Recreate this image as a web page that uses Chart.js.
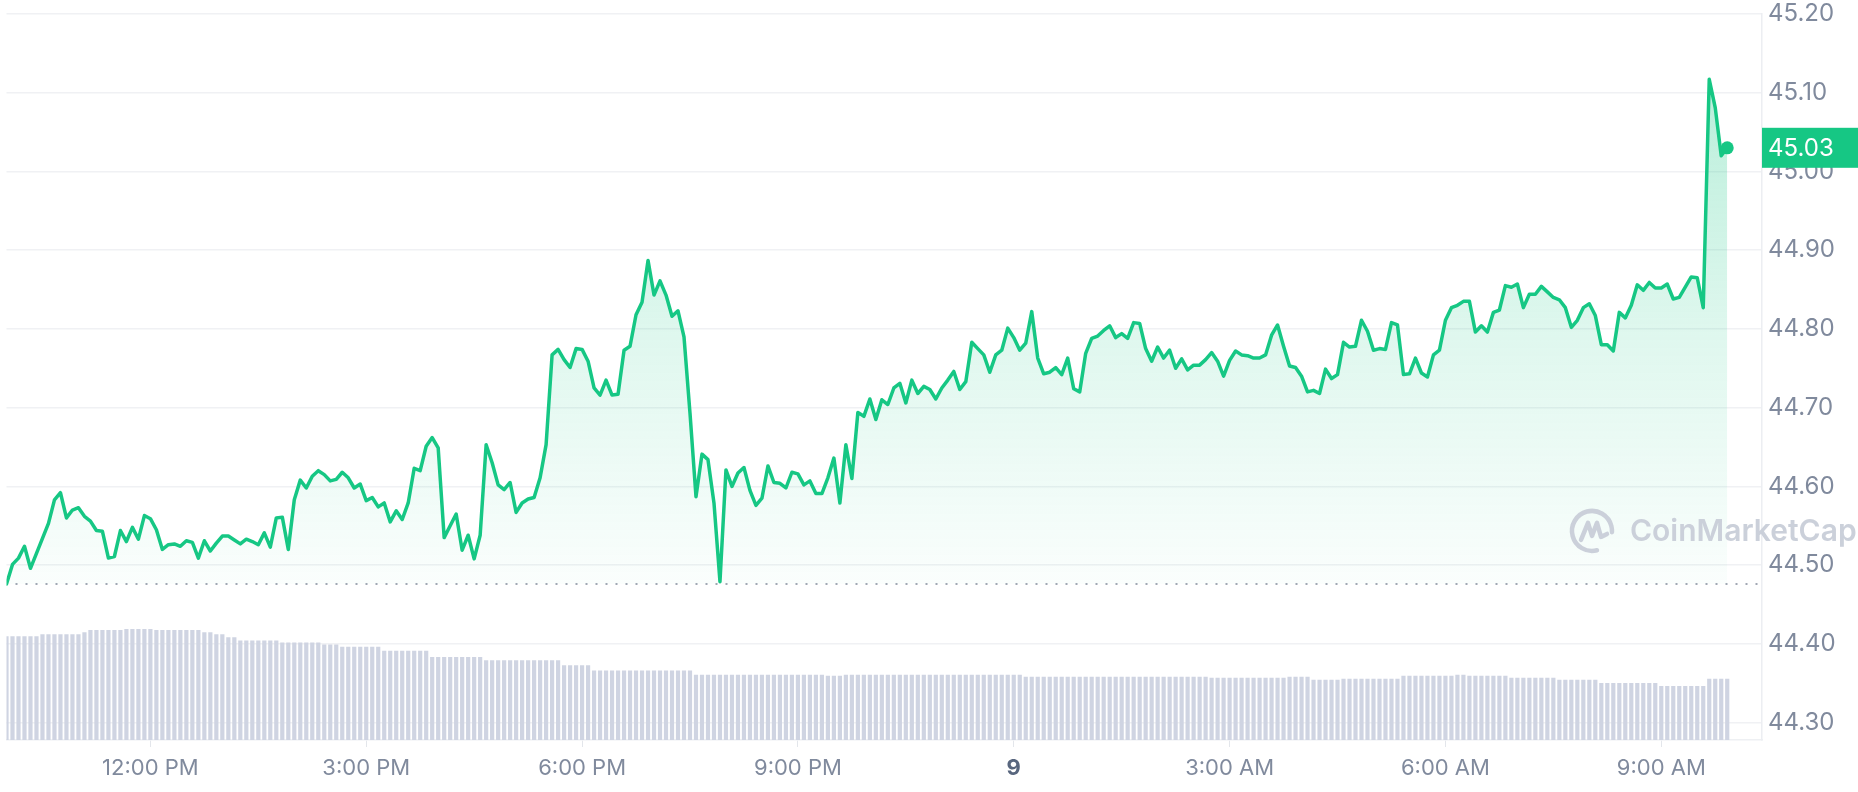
<!DOCTYPE html>
<html>
<head>
<meta charset="utf-8">
<title>Price chart</title>
<script src="https://cdn.jsdelivr.net/npm/chart.js@4.4.0/dist/chart.umd.min.js"></script>
<style>
  html, body { margin: 0; padding: 0; background: #fff; }
  #priceChart { display: block; }
</style>
</head>
<body>
<canvas id="priceChart" width="1858" height="792"></canvas>
<script>
// 5 minute samples, from 10:00 AM (day 8) to 9:55 AM (day 9)
const startHour = 10;
const stepMinutes = 5;

const prices = [
  44.476, 44.501, 44.509, 44.524, 44.496, 44.515, 44.534, 44.553, 44.583, 44.592,
  44.560, 44.570, 44.573, 44.562, 44.556, 44.544, 44.543, 44.509, 44.511, 44.544,
  44.530, 44.548, 44.533, 44.563, 44.559, 44.545, 44.520, 44.526, 44.527, 44.524,
  44.531, 44.529, 44.509, 44.531, 44.518, 44.528, 44.537, 44.537, 44.532, 44.527,
  44.533, 44.530, 44.526, 44.541, 44.523, 44.560, 44.561, 44.520, 44.583, 44.608,
  44.598, 44.613, 44.620, 44.615, 44.607, 44.609, 44.618, 44.611, 44.598, 44.603,
  44.582, 44.586, 44.574, 44.579, 44.555, 44.569, 44.558, 44.579, 44.623, 44.620,
  44.651, 44.662, 44.649, 44.535, 44.550, 44.565, 44.519, 44.538, 44.508, 44.538,
  44.653, 44.630, 44.602, 44.596, 44.605, 44.567, 44.579, 44.584, 44.586, 44.611,
  44.653, 44.767, 44.774, 44.761, 44.751, 44.775, 44.774, 44.759, 44.725, 44.716,
  44.735, 44.716, 44.717, 44.773, 44.778, 44.818, 44.834, 44.887, 44.843, 44.861,
  44.843, 44.816, 44.823, 44.790, 44.693, 44.587, 44.641, 44.634, 44.579, 44.479,
  44.621, 44.600, 44.617, 44.624, 44.595, 44.576, 44.585, 44.626, 44.605, 44.604,
  44.598, 44.618, 44.616, 44.602, 44.607, 44.591, 44.591, 44.611, 44.636, 44.579,
  44.653, 44.610, 44.694, 44.689, 44.711, 44.685, 44.710, 44.704, 44.725, 44.731,
  44.706, 44.735, 44.718, 44.727, 44.723, 44.711, 44.725, 44.735, 44.746, 44.723,
  44.733, 44.783, 44.775, 44.767, 44.745, 44.767, 44.773, 44.801, 44.789, 44.773,
  44.782, 44.822, 44.763, 44.743, 44.745, 44.751, 44.742, 44.763, 44.724, 44.720,
  44.769, 44.788, 44.791, 44.798, 44.804, 44.789, 44.794, 44.788, 44.808, 44.807,
  44.775, 44.759, 44.777, 44.763, 44.773, 44.750, 44.762, 44.748, 44.754, 44.754,
  44.761, 44.770, 44.759, 44.740, 44.760, 44.772, 44.767, 44.766, 44.763, 44.763,
  44.767, 44.792, 44.805, 44.778, 44.753, 44.751, 44.740, 44.720, 44.722, 44.718,
  44.749, 44.737, 44.742, 44.783, 44.777, 44.778, 44.811, 44.797, 44.773, 44.775,
  44.774, 44.808, 44.805, 44.742, 44.743, 44.763, 44.744, 44.739, 44.767, 44.773,
  44.811, 44.827, 44.830, 44.835, 44.835, 44.796, 44.804, 44.796, 44.821, 44.824,
  44.855, 44.853, 44.857, 44.827, 44.844, 44.844, 44.854, 44.847, 44.840, 44.837,
  44.827, 44.802, 44.811, 44.827, 44.832, 44.817, 44.780, 44.780, 44.772, 44.821,
  44.814, 44.830, 44.856, 44.849, 44.859, 44.852, 44.852, 44.857, 44.838, 44.840,
  44.853, 44.866, 44.865, 44.827, 45.117, 45.081, 45.020, 45.030
];

// volume bars (billions)
const volumes = [
  1.00, 1.00, 1.00, 1.00, 1.00, 1.00, 1.02, 1.02, 1.02, 1.02,
  1.02, 1.02, 1.02, 1.04, 1.06, 1.06, 1.06, 1.06, 1.06, 1.06,
  1.07, 1.07, 1.07, 1.07, 1.07, 1.06, 1.06, 1.06, 1.06, 1.06,
  1.06, 1.06, 1.06, 1.04, 1.04, 1.02, 1.02, 0.99, 0.99, 0.96,
  0.96, 0.96, 0.96, 0.96, 0.96, 0.96, 0.94, 0.94, 0.94, 0.94,
  0.94, 0.94, 0.94, 0.92, 0.92, 0.92, 0.90, 0.90, 0.90, 0.90,
  0.90, 0.90, 0.90, 0.86, 0.86, 0.86, 0.86, 0.86, 0.86, 0.86,
  0.86, 0.80, 0.80, 0.80, 0.80, 0.80, 0.80, 0.80, 0.80, 0.80,
  0.77, 0.77, 0.77, 0.77, 0.77, 0.77, 0.77, 0.77, 0.77, 0.77,
  0.77, 0.77, 0.77, 0.72, 0.72, 0.72, 0.72, 0.72, 0.67, 0.67,
  0.67, 0.67, 0.67, 0.67, 0.67, 0.67, 0.67, 0.67, 0.67, 0.67,
  0.67, 0.67, 0.67, 0.67, 0.67, 0.63, 0.63, 0.63, 0.63, 0.63,
  0.63, 0.63, 0.63, 0.63, 0.63, 0.63, 0.63, 0.63, 0.63, 0.63,
  0.63, 0.63, 0.63, 0.63, 0.63, 0.63, 0.63, 0.62, 0.62, 0.62,
  0.63, 0.63, 0.63, 0.63, 0.63, 0.63, 0.63, 0.63, 0.63, 0.63,
  0.63, 0.63, 0.63, 0.63, 0.63, 0.63, 0.63, 0.63, 0.63, 0.63,
  0.63, 0.63, 0.63, 0.63, 0.63, 0.63, 0.63, 0.63, 0.63, 0.63,
  0.61, 0.61, 0.61, 0.61, 0.61, 0.61, 0.61, 0.61, 0.61, 0.61,
  0.61, 0.61, 0.61, 0.61, 0.61, 0.61, 0.61, 0.61, 0.61, 0.61,
  0.61, 0.61, 0.61, 0.61, 0.61, 0.61, 0.61, 0.61, 0.61, 0.61,
  0.61, 0.60, 0.60, 0.60, 0.60, 0.60, 0.60, 0.60, 0.60, 0.60,
  0.60, 0.60, 0.60, 0.60, 0.61, 0.61, 0.61, 0.61, 0.58, 0.58,
  0.58, 0.58, 0.58, 0.59, 0.59, 0.59, 0.59, 0.59, 0.59, 0.59,
  0.59, 0.59, 0.59, 0.62, 0.62, 0.62, 0.62, 0.62, 0.62, 0.62,
  0.62, 0.62, 0.63, 0.63, 0.62, 0.62, 0.62, 0.62, 0.62, 0.62,
  0.62, 0.60, 0.60, 0.60, 0.60, 0.60, 0.60, 0.60, 0.60, 0.58,
  0.58, 0.58, 0.58, 0.58, 0.58, 0.58, 0.55, 0.55, 0.55, 0.55,
  0.55, 0.55, 0.55, 0.55, 0.55, 0.55, 0.52, 0.52, 0.52, 0.52,
  0.52, 0.52, 0.52, 0.52, 0.59, 0.59, 0.59, 0.59
];

const tickHours = [12, 15, 18, 21, 24, 27, 30, 33];
const tickLabels = ["12:00 PM", "3:00 PM", "6:00 PM", "9:00 PM", "9", "3:00 AM", "6:00 AM", "9:00 AM"];
const priceTicks = [44.3, 44.4, 44.5, 44.6, 44.7, 44.8, 44.9, 45.0, 45.1, 45.2];

const green = "#16c784";
const labelGray = "#808a9d";
const openPrice = prices[0];
const lastPrice = prices[prices.length - 1];

//sample times in hours after midnight of day 8
const times = prices.map((p, i) => startHour + i * stepMinutes / 60);

Chart.defaults.font.family = "Inter, 'Noto Sans', sans-serif";

//dotted line at the opening price
const openLine = {
  id: "openLine",
  beforeDatasetsDraw(chart) {
    const c = chart.ctx;
    const y = chart.scales.y.getPixelForValue(openPrice);
    const {left, right} = chart.chartArea;
    c.save();
    c.strokeStyle = "#a1a7b3";
    c.lineWidth = 2;
    c.setLineDash([2, 8]);
    c.beginPath();
    c.moveTo(left + 9, y);
    c.lineTo(right, y);
    c.stroke();
    c.restore();
  }
};

//CoinMarketCap watermark
const watermark = {
  id: "watermark",
  afterDatasetsDraw(chart) {
    const c = chart.ctx;
    const {right, top} = chart.chartArea;
    const cx = right - 170, cy = top + 517;
    c.save();
    c.strokeStyle = "rgba(200,205,216,0.95)";
    c.fillStyle = "rgba(200,205,216,0.95)";
    c.lineWidth = 4.5;
    c.lineCap = "round";
    c.lineJoin = "round";
    c.beginPath();
    c.arc(cx, cy, 20, 0.42 * Math.PI, 2.02 * Math.PI);
    c.stroke();
    c.beginPath();
    c.moveTo(cx - 11, cy + 9);
    c.lineTo(cx - 4, cy - 8);
    c.lineTo(cx, cy + 5);
    c.lineTo(cx + 5, cy - 8);
    c.lineTo(cx + 9, cy + 6);
    c.lineTo(cx + 15, cy + 3);
    c.stroke();
    c.font = "600 30px Inter, 'Noto Sans', sans-serif";
    c.textBaseline = "middle";
    c.textAlign = "left";
    c.fillText("CoinMarketCap", right - 132, cy + 1);
    c.restore();
  }
};

//green tag with the latest price on the right axis
const lastPriceTag = {
  id: "lastPriceTag",
  afterDraw(chart) {
    const c = chart.ctx;
    const y = chart.scales.y.getPixelForValue(lastPrice);
    const right = chart.chartArea.right;
    c.save();
    c.fillStyle = green;
    c.fillRect(right, y - 20, chart.width - right, 40);
    c.fillStyle = "#ffffff";
    c.font = "24px Inter, 'Noto Sans', sans-serif";
    c.textBaseline = "middle";
    c.textAlign = "left";
    c.fillText(lastPrice.toFixed(2), right + 6, y + 1);
    c.restore();
  }
};

const ctx = document.getElementById("priceChart").getContext("2d");

new Chart(ctx, {
  data: {
    datasets: [
      {
        type: "line",
        label: "Price",
        data: prices.map((p, i) => ({x: times[i], y: p})),
        yAxisID: "y",
        borderColor: green,
        borderWidth: 3.5,
        borderJoinStyle: "round",
        borderCapStyle: "round",
        tension: 0,
        pointRadius: c => c.dataIndex === prices.length - 1 ? 6.5 : 0,
        pointBackgroundColor: green,
        pointBorderWidth: 0,
        fill: {value: openPrice},
        backgroundColor: c => {
          const chart = c.chart;
          const area = chart.chartArea;
          if (!area) return "rgba(22,199,132,0.1)";
          const yBase = chart.scales.y.getPixelForValue(openPrice);
          const g = chart.ctx.createLinearGradient(0, area.top, 0, yBase);
          g.addColorStop(0, "rgba(22,199,132,0.34)");
          g.addColorStop(0.55, "rgba(22,199,132,0.14)");
          g.addColorStop(1, "rgba(22,199,132,0.02)");
          return g;
        },
        order: 1
      },
      {
        type: "bar",
        label: "Volume",
        data: volumes.map((v, i) => ({x: times[i], y: v})),
        yAxisID: "yVol",
        backgroundColor: "#cfd4e2",
        barPercentage: 1,
        categoryPercentage: 0.7,
        order: 2
      }
    ]
  },
  options: {
    responsive: false,
    animation: false,
    devicePixelRatio: 1,
    layout: { padding: { top: 0, left: 0, right: 0, bottom: 0 } },
    plugins: {
      legend: { display: false },
      tooltip: { enabled: false }
    },
    scales: {
      x: {
        type: "linear",
        offset: false,
        min: 10,
        max: 34.4,
        afterBuildTicks: s => { s.ticks = tickHours.map(v => ({value: v})); },
        afterFit: s => { s.height = 52; },
        grid: { offset: false, drawOnChartArea: false, drawTicks: true, tickLength: 7, color: "#e3e6eb" },
        border: { display: true, color: "#eef0f3", width: 1.5 },
        ticks: {
          autoSkip: false,
          maxRotation: 0,
          padding: 8,
          color: c => c.tick && c.tick.value === 24 ? "#58667e" : labelGray,
          font: c => c.tick && c.tick.value === 24 ? {size: 22, weight: "bold"} : {size: 22},
          callback: v => tickLabels[tickHours.indexOf(v)]
        }
      },
      y: {
        position: "right",
        min: 44.278,
        max: 45.2,
        afterBuildTicks: s => { s.ticks = priceTicks.map(v => ({value: v})); },
        afterFit: s => { s.width = 96; },
        grid: { color: "#f0f1f4", lineWidth: 1.5, drawTicks: false },
        border: { display: true, color: "#eceef2", width: 1.5 },
        ticks: {
          padding: 6,
          color: labelGray,
          font: {size: 24, lineHeight: 0.66},
          callback: v => v.toFixed(2)
        }
      },
      yVol: {
        display: false,
        min: 0,
        max: 7
      }
    }
  },
  plugins: [openLine, watermark, lastPriceTag]
});
</script>
</body>
</html>
